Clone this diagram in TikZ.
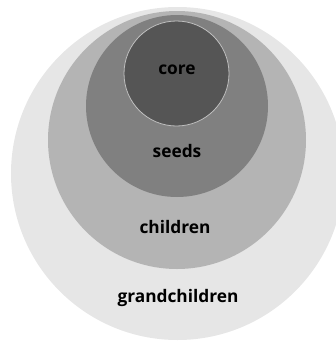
\documentclass[tikz,border=0pt]{standalone}
\usepackage{fontspec}
\setsansfont{Open Sans}
\usepackage{tikz}
\usetikzlibrary{positioning}

\definecolor{ringouter}{HTML}{E6E6E6}
\definecolor{ringchild}{HTML}{B4B4B4}
\definecolor{ringseed}{HTML}{808080}
\definecolor{ringcore}{HTML}{555555}

\begin{document}
\begin{tikzpicture}[x=1pt, y=-1pt,
    lbl/.style={font=\sffamily\bfseries\fontsize{17.3}{18}\selectfont, text=black, inner sep=0pt}]
    \useasboundingbox (0,0) rectangle (335,343);

    % Nested rings, all touching near the top
    \fill[ringouter] (177.5,173.5) circle (166.5);
    \fill[ringchild] (177,140) circle (129);
    \fill[ringseed] (177,106) circle (91);
    \fill[ringcore, draw=gray!50, line width=0.8pt] (176.5,73.5) circle (52.5);

    % Labels
    \node[lbl] (core) at (177,70) {core};
    \node[lbl] (seeds) at (177,151) {seeds};
    \node[lbl] (children) at (175,227) {children};
    \node[lbl] (grandchildren) at (178,298) {grandchildren};
\end{tikzpicture}
\end{document}
